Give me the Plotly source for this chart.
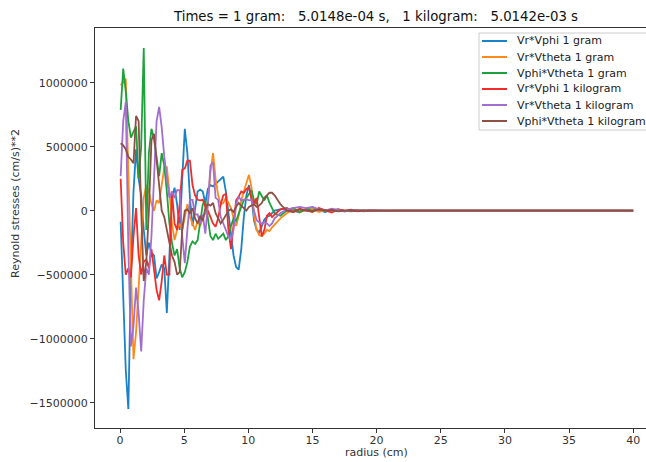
import plotly.graph_objects as go

# radius grid (cm)
radius = [0.05, 0.25, 0.45, 0.65, 0.85, 1.05, 1.25, 1.45, 1.65, 1.85,
          2.05, 2.25, 2.45, 2.65, 2.85, 3.05, 3.25, 3.45, 3.65, 3.85,
          4.05, 4.25, 4.45, 4.65, 4.85, 5.05, 5.25, 5.45, 5.65, 5.85,
          6.05, 6.25, 6.45, 6.65, 6.85, 7.05, 7.25, 7.45, 7.65, 7.85,
          8.05, 8.25, 8.45, 8.65, 8.85, 9.05, 9.25, 9.45, 9.65, 9.85,
          10.05, 10.25, 10.45, 10.65, 10.85, 11.05, 11.25, 11.45, 11.65, 11.85,
          12.05, 12.5, 13.0, 13.5, 14.0, 14.5, 15.0, 15.5, 16.0, 16.5,
          17.0, 17.5, 18.0, 18.5, 19.0, 19.5, 20.0, 20.5, 21.0, 21.5,
          22.0, 23.0, 24.0, 25.0, 27.0, 30.0, 33.0, 35.0, 37.0, 40.0]

# Reynolds stresses, (cm/s)**2
vr_vphi_gram = [
    -86000, -650000, -1250000, -1550000, -500000, 150000, 480000, 250000, 120000, -150000,
    -350000, -250000, -330000, -350000, -530000, -480000, -420000, -450000, -800000, -350000,
    100000, 180000, 50000, -150000, 200000, 640000, 450000, 100000, -120000, 0,
    150000, 165000, 150000, 60000, 170000, 200000, 190000, 210000, 230000, 250000,
    265000, 150000, -20000, -200000, -350000, -440000, -460000, -300000, -50000, 120000,
    200000, 100000, -80000, -150000, -170000, -120000, -70000, -50000, -40000, -20000,
    0, 10000, 20000, 0, -15000, 15000, 25000, 5000, -10000, 10000,
    0, -5000, 8000, 0, -5000, 3000, 0, 2000, -2000, 0,
    0, 0, 0, 0, 0, 0, 0, 0, 0, 0]

vr_vtheta_gram = [
    980000, 1000000, 1030000, 300000, -500000, -1160000, -950000, -600000, -150000, 100000,
    200000, 150000, 50000, 0, 80000, 60000, 200000, 340000, 340000, 150000,
    -100000, -230000, -150000, -100000, -150000, -50000, 50000, -50000, -100000, -150000,
    -80000, -120000, -60000, -20000, 50000, 300000, 450000, 250000, 120000, 50000,
    60000, 100000, 60000, 20000, -60000, -120000, -40000, 80000, 150000, 220000,
    280000, 180000, -40000, -150000, -190000, -200000, -180000, -150000, -160000, -130000,
    -110000, -60000, -20000, 10000, -10000, 5000, 15000, -10000, 5000, 0,
    10000, -5000, 0, 5000, 0, -3000, 0, 2000, 0, 0,
    0, 0, 0, 0, 0, 0, 0, 0, 0, 0]

vphi_vtheta_gram = [
    787000, 1110000, 930000, 700000, 570000, 620000, 660000, 250000, 500000, 1270000,
    -150000, 450000, 640000, 560000, 400000, 270000, 450000, 350000, 150000, -100000,
    -250000, -350000, -300000, -450000, -520000, -480000, -400000, -280000, -240000, -260000,
    -230000, -100000, 50000, 80000, -50000, -200000, -230000, -180000, -220000, -200000,
    -180000, -230000, -200000, -120000, -60000, -80000, -20000, 30000, 80000, 100000,
    130000, 160000, 80000, 50000, 150000, 120000, 80000, 120000, 60000, 20000,
    -20000, -40000, 0, 20000, -10000, 10000, 0, 15000, -5000, 5000,
    10000, 0, -5000, 0, 3000, 0, 0, 0, 0, 0,
    0, 0, 0, 0, 0, 0, 0, 0, 0, 0]

vr_vphi_kg = [
    250000, -250000, -500000, -450000, -520000, -200000, 20000, -350000, -500000, -400000,
    -380000, -450000, -300000, -450000, -620000, -700000, -550000, -350000, -500000, -500000,
    150000, -100000, -150000, 50000, 320000, 330000, 390000, 390000, 200000, 120000,
    85000, 80000, 85000, 30000, 0, -50000, -100000, -125000, -60000, 50000,
    120000, 130000, -150000, -300000, -100000, 80000, 110000, 150000, 140000, 170000,
    180000, 90000, 60000, 100000, -50000, -200000, -150000, -40000, -20000, -50000,
    -30000, 10000, 20000, -10000, 15000, 0, -10000, 20000, 5000, -15000,
    10000, 0, 5000, -5000, 0, 3000, 0, 0, 0, 0,
    0, 0, 0, 0, 0, 0, 0, 0, 0, 0]

vr_vtheta_kg = [
    270000, 700000, 850000, -300000, -1060000, -900000, -600000, -800000, -1100000, -700000,
    -450000, -500000, -200000, 300000, 700000, 810000, 650000, 420000, 250000, 100000,
    150000, 100000, 160000, 160000, -200000, -410000, -150000, 84000, 84000, -30000,
    -30000, -100000, -30000, -180000, 50000, 350000, 380000, 100000, 84000, -50000,
    -100000, -150000, -200000, -230000, -150000, 50000, 110000, 80000, 84000, 90000,
    80000, 84000, 0, -75000, -90000, -100000, -90000, -100000, -120000, -100000,
    -60000, -20000, 10000, 20000, 30000, 20000, 30000, 10000, 0, 15000,
    5000, -5000, 0, 5000, 0, 0, 2000, 0, 0, 0,
    0, 0, 0, 0, 0, 0, 0, 0, 0, 0]

vphi_vtheta_kg = [
    527000, 510000, 480000, 420000, 400000, 370000, 740000, 700000, 0, -550000,
    -400000, 0, 550000, 600000, 400000, 200000, 0, -50000, -150000, -250000,
    -350000, -400000, -500000, -480000, -150000, 0, 10000, -20000, 20000, -60000,
    -100000, -40000, -80000, 20000, 50000, 40000, 60000, -20000, -60000, -100000,
    -70000, -30000, 0, 10000, -10000, 30000, 60000, 40000, 20000, 0,
    30000, 40000, 50000, 30000, 40000, 60000, 100000, 120000, 140000, 140000,
    120000, 50000, 0, -10000, 10000, 0, -5000, 10000, 0, 5000,
    -5000, 0, 3000, 0, 0, 0, 0, 0, 0, 0,
    0, 0, 0, 0, 0, 0, 0, 0, 0, 0]

series_names = ["Vr*Vphi 1 gram", "Vr*Vtheta 1 gram", "Vphi*Vtheta 1 gram",
                "Vr*Vphi 1 kilogram", "Vr*Vtheta 1 kilogram", "Vphi*Vtheta 1 kilogram"]
series_values = [vr_vphi_gram, vr_vtheta_gram, vphi_vtheta_gram,
                 vr_vphi_kg, vr_vtheta_kg, vphi_vtheta_kg]
series_colors = ["#1a82c6", "#ff8a1a", "#1ca23a", "#f22c2c", "#a26fcf", "#8e5044"]

x_ticks = [0, 5, 10, 15, 20, 25, 30, 35, 40]
y_ticks = [-1500000, -1000000, -500000, 0, 500000, 1000000]
y_ticktext = ["\u22121500000", "\u22121000000", "\u2212500000", "0", "500000", "1000000"]

FONT = "DejaVu Sans"
W, H = 646, 462
L, R, T, B = 95, 0, 28, 34

fig = go.Figure()
for name, vals, color in zip(series_names, series_values, series_colors):
    fig.add_trace(go.Scatter(x=radius, y=vals, mode="lines", name=name,
                             showlegend=False, line=dict(color=color, width=1.8)))


def px_to_paper(px, py):
    return (px - L) / (W - L - R), 1 - (py - T) / (H - T - B)


# legend box drawn in the upper right corner of the axes
shapes = []
annotations = []
bx0, by0 = px_to_paper(479, 33)
bx1, by1 = px_to_paper(652, 130)
shapes.append(dict(type="rect", xref="paper", yref="paper", x0=bx0, y0=by1, x1=bx1, y1=by0,
                   line=dict(color="#cccccc", width=1), fillcolor="rgba(255,255,255,0.85)",
                   layer="above"))
for i, (name, color) in enumerate(zip(series_names, series_colors)):
    row_y = 41 + i * 16
    sx0, sy = px_to_paper(482, row_y)
    sx1, _ = px_to_paper(507, row_y)
    shapes.append(dict(type="line", xref="paper", yref="paper", x0=sx0, y0=sy, x1=sx1, y1=sy,
                       line=dict(color=color, width=2), layer="above"))
    tx, _ = px_to_paper(515, row_y)
    annotations.append(dict(text=name, xref="paper", yref="paper", x=tx, y=sy,
                            xanchor="left", yanchor="middle", showarrow=False,
                            font=dict(family=FONT, size=11, color="#222222")))

xl, yl = px_to_paper(376, 452)
yx, yy = px_to_paper(16, 204)
annotations += [
    dict(text="radius (cm)", xref="paper", yref="paper", x=xl, y=yl,
         xanchor="center", yanchor="middle", showarrow=False,
         font=dict(family=FONT, size=11, color="#333333")),
    dict(text="Reynold stresses (cm/s)**2", xref="paper", yref="paper", x=yx, y=yy,
         xanchor="center", yanchor="middle", textangle=-90, showarrow=False,
         font=dict(family=FONT, size=11, color="#333333")),
]

fig.update_layout(
    width=W, height=H,
    margin=dict(l=L, r=R, t=T, b=B),
    paper_bgcolor="white", plot_bgcolor="white",
    font=dict(family=FONT, size=11, color="#333333"),
    title=dict(text="Times = 1 gram:\u00a0\u00a0 5.0148e-04 s,\u00a0\u00a0 1 kilogram:\u00a0\u00a0 5.0142e-03 s",
               xref="container", yref="container", x=376 / W, y=1 - 16 / H,
               xanchor="center", yanchor="middle",
               font=dict(family=FONT, size=13.3, color="#111111")),
    xaxis=dict(range=[-1.95, 41.0], tickvals=x_ticks, ticks="outside", ticklen=4,
               tickcolor="#333333", showline=True, linecolor="#333333", linewidth=1,
               mirror=True, showgrid=False, zeroline=False, ticklabelstandoff=-2),
    yaxis=dict(range=[-1697700, 1427000], tickvals=y_ticks, ticktext=y_ticktext,
               ticks="outside", ticklen=4, tickcolor="#333333", showline=True,
               linecolor="#333333", linewidth=1, showgrid=False, zeroline=False),
    shapes=shapes,
    annotations=annotations,
)

fig.write_html("out.html")
